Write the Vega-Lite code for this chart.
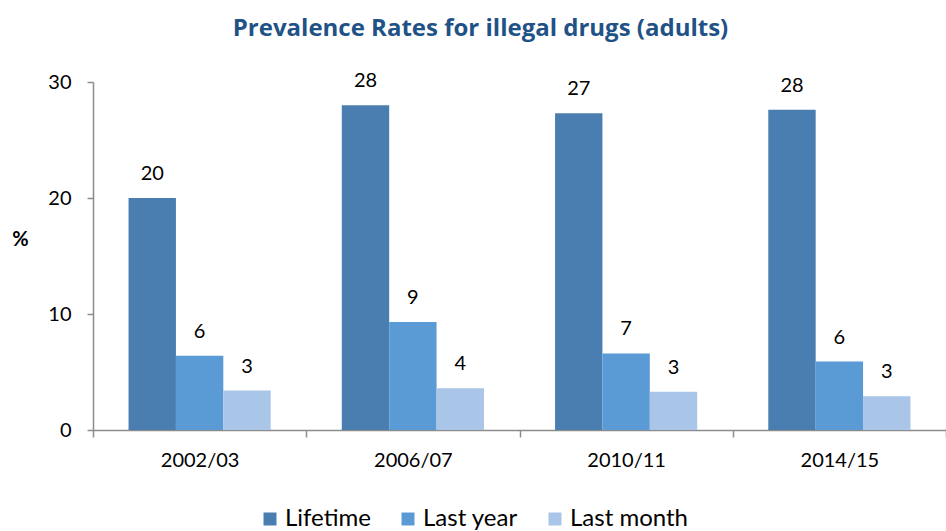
{
  "$schema": "https://vega.github.io/schema/vega-lite/v6.json",
  "autosize": {"type": "none"},
  "padding": {"left": 93, "top": 82, "right": 0, "bottom": 101},
  "width": 853,
  "height": 348,
  "background": "white",
  "title": {
    "text": "Prevalence Rates for illegal drugs (adults)",
    "font": "Open Sans",
    "fontSize": 24,
    "fontWeight": "bold",
    "color": "#1f5286",
    "anchor": "middle",
    "dx": -39,
    "offset": 30
  },
  "config": {
    "font": "Lato",
    "view": {"stroke": null}
  },
  "data": {
    "values": [
      {"period": "2002/03", "measure": "Lifetime", "value": 20.0},
      {"period": "2002/03", "measure": "Last year", "value": 6.4},
      {"period": "2002/03", "measure": "Last month", "value": 3.4},
      {"period": "2006/07", "measure": "Lifetime", "value": 28.0},
      {"period": "2006/07", "measure": "Last year", "value": 9.3},
      {"period": "2006/07", "measure": "Last month", "value": 3.6},
      {"period": "2010/11", "measure": "Lifetime", "value": 27.3},
      {"period": "2010/11", "measure": "Last year", "value": 6.6},
      {"period": "2010/11", "measure": "Last month", "value": 3.3},
      {"period": "2014/15", "measure": "Lifetime", "value": 27.6},
      {"period": "2014/15", "measure": "Last year", "value": 5.9},
      {"period": "2014/15", "measure": "Last month", "value": 2.9}
    ]
  },
  "encoding": {
    "x": {
      "field": "period",
      "type": "nominal",
      "sort": null,
      "scale": {"paddingInner": 0, "paddingOuter": 0},
      "axis": {
        "title": null,
        "labelAngle": 0,
        "tickBand": "extent",
        "tickSize": 7,
        "tickColor": "#8c8c8c",
        "domainColor": "#8c8c8c",
        "domainWidth": 1.5,
        "tickWidth": 1.5,
        "labelFontSize": 20,
        "labelColor": "#000000",
        "labelPadding": 13
      }
    },
    "xOffset": {
      "field": "measure",
      "type": "nominal",
      "sort": ["Lifetime", "Last year", "Last month"],
      "scale": {"paddingInner": 0, "paddingOuter": 0.75}
    },
    "y": {
      "field": "value",
      "type": "quantitative",
      "scale": {"domain": [0, 30], "nice": false},
      "axis": {
        "values": [0, 10, 20, 30],
        "grid": false,
        "tickSize": 6,
        "tickColor": "#8c8c8c",
        "domainColor": "#8c8c8c",
        "domainWidth": 1.5,
        "tickWidth": 1.5,
        "labelPadding": 16,
        "labelFontSize": 20,
        "labelColor": "#000000",
        "title": "%",
        "titleAngle": 0,
        "titleFontSize": 20,
        "titleFontWeight": "bold",
        "titleColor": "#000000",
        "titleAlign": "center",
        "titleBaseline": "middle",
        "titleX": -73,
        "titleY": 157
      }
    }
  },
  "layer": [
    {
      "mark": {"type": "bar"},
      "encoding": {
        "color": {
          "field": "measure",
          "type": "nominal",
          "sort": ["Lifetime", "Last year", "Last month"],
          "scale": {
            "domain": ["Lifetime", "Last year", "Last month"],
            "range": ["#4a7eb1", "#5b9bd5", "#a9c5e7"]
          },
          "legend": {
            "title": null,
            "orient": "none",
            "direction": "horizontal",
            "legendX": 165,
            "legendY": 425,
            "symbolType": "square",
            "symbolSize": 169,
            "symbolStrokeWidth": 0,
            "symbolOpacity": 1,
            "labelFontSize": 24,
            "labelColor": "#000000",
            "labelOffset": 3,
            "columnPadding": 25
          }
        }
      }
    },
    {
      "mark": {
        "type": "text",
        "baseline": "alphabetic",
        "dy": -18,
        "fontSize": 20,
        "color": "#000000"
      },
      "encoding": {
        "text": {"field": "value", "type": "quantitative", "format": ".0f"}
      }
    }
  ]
}
